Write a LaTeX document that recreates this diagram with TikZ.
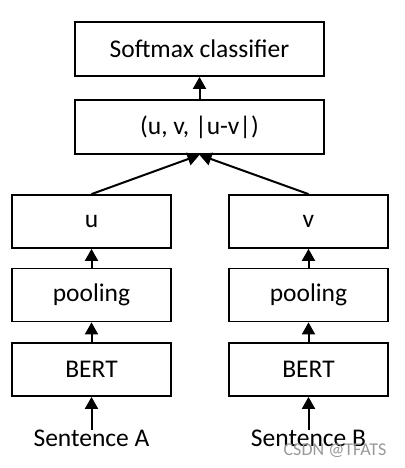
\documentclass[tikz,border=0pt]{standalone}
\usepackage{fontspec}
\setmainfont{Carlito}
\usetikzlibrary{arrows.meta}
\begin{document}
\begin{tikzpicture}[x=1pt,y=-1pt,
  box/.style={draw,line width=1.8pt,minimum width=159pt,minimum height=53pt,
    font=\fontsize{25.5}{30}\selectfont},
  wide/.style={box,minimum width=249pt,minimum height=54pt},
  txt/.style={font=\fontsize{25.5}{30}\selectfont},
  up/.style={-{Triangle[width=13pt,length=12pt]},line width=2pt}]
\useasboundingbox (0,0) rectangle (404,468);
% top part
\node[wide] (soft) at (199.5,49) {Softmax classifier};
\node[wide] (pair) at (199.5,127) {(u, v, |u-v|)};
% the two branches
\node[box] (u) at (91.5,221.5) {u};
\node[box] (poolA) at (91.5,295) {pooling};
\node[box] (bertA) at (91.5,369.5) {BERT};
\node[txt] (sentA) at (91.5,438) {Sentence A};
\node[box] (v) at (308.5,221.5) {v};
\node[box] (poolB) at (308.5,295) {pooling};
\node[box] (bertB) at (308.5,369.5) {BERT};
\node[txt] (sentB) at (308.5,438) {Sentence B};
\draw[up] (pair) -- (soft);
\draw[up] (u.north) -- (pair.south);
\draw[up] (v.north) -- (pair.south);
\draw[up] (poolA) -- (u);
\draw[up] (bertA) -- (poolA);
\draw[up] ([yshift=-4pt]sentA.north) -- (bertA);
\draw[up] (poolB) -- (v);
\draw[up] (bertB) -- (poolB);
\draw[up] ([yshift=-4pt]sentB.north) -- (bertB);
\node[text=black!40,font=\fontsize{18}{20}\selectfont] (mark) at (335,451) {CSDN @TFATS};
\end{tikzpicture}
\end{document}
